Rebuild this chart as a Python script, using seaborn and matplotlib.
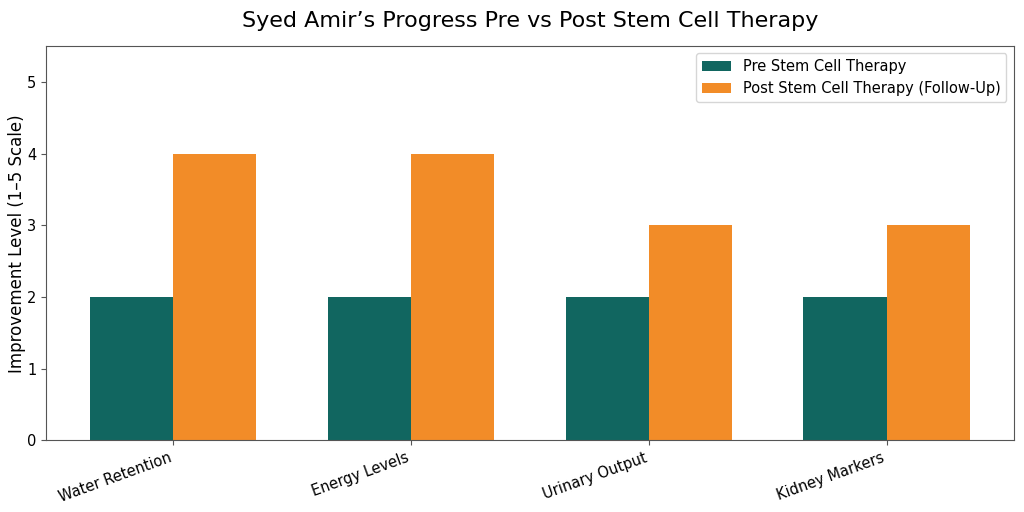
import matplotlib
matplotlib.use("Agg")
import matplotlib.pyplot as plt
import seaborn as sns
import pandas as pd

categories = ["Water Retention", "Energy Levels", "Urinary Output", "Kidney Markers"]
pre_values = [2, 2, 2, 2]
post_values = [4, 4, 3, 3]
series_names = ["Pre Stem Cell Therapy", "Post Stem Cell Therapy (Follow-Up)"]
colors = ["#116660", "#F28C28"]

df = pd.DataFrame({
    "Category": categories * 2,
    "Value": pre_values + post_values,
    "Series": [series_names[0]] * 4 + [series_names[1]] * 4,
})

fig, ax = plt.subplots(figsize=(10.24, 5.12), dpi=100)
sns.barplot(data=df, x="Category", y="Value", hue="Series", order=categories,
            hue_order=series_names, palette=colors, width=0.7, gap=0,
            linewidth=0, saturation=1, ax=ax)
ax.set_ylim(0, 5.5)
ax.set_xlim(-0.535, 3.535)
ax.set_xlabel("")
ax.set_ylabel("Improvement Level (1–5 Scale)", fontsize=12)
ax.yaxis.set_label_coords(-0.021, 0.5)
ax.set_title("Syed Amir’s Progress Pre vs Post Stem Cell Therapy", fontsize=16, pad=14)
ax.tick_params(axis="both", labelsize=10.5, color="#555555")
for s in ax.spines.values():
    s.set_color("#555555")
plt.setp(ax.get_xticklabels(), rotation=20, ha="right")
ax.legend(title=None, loc="upper right", fontsize=10.5)
fig.subplots_adjust(left=0.045, right=0.99, top=0.91, bottom=0.14)
fig.savefig("out.png", dpi=100)
